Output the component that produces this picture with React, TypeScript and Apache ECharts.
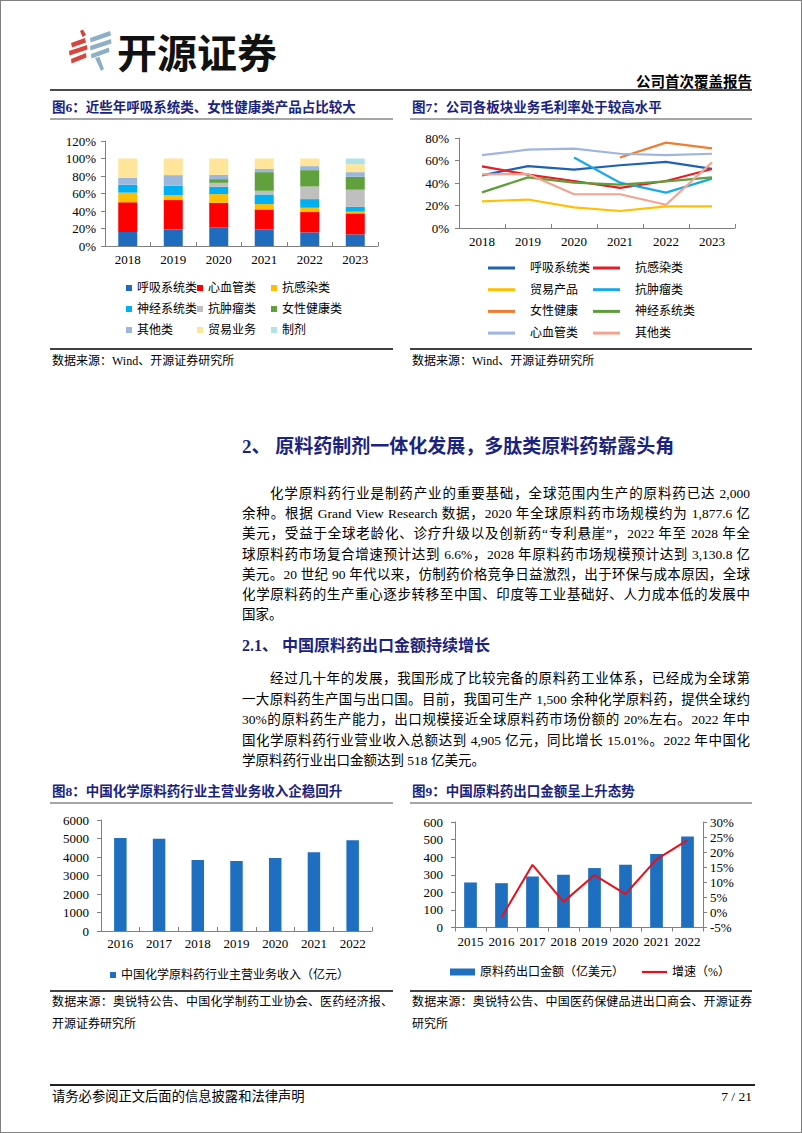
import React, { useEffect, useRef } from "react";
import * as echarts from "echarts";

// ---------- DATA ----------
const years6 = ["2018", "2019", "2020", "2021", "2022", "2023"];
const names6 = ["呼吸系统类", "心血管类", "抗感染类", "神经系统类", "抗肿瘤类", "女性健康类", "其他类", "贸易业务", "制剂"];
const share6Resp = [16, 19, 21, 19, 15.6, 13.3];
const share6Cardio = [34, 33.5, 28.4, 22.8, 23.2, 24];
const share6Anti = [11, 5.5, 9.9, 6.1, 4.9, 1.9];
const share6Neuro = [9, 11, 8.4, 11, 9.9, 5.7];
const share6Tumor = [0, 0, 4.5, 4.2, 14.4, 19.4];
const share6Women = [0, 0, 4.2, 21.3, 18.7, 14.8];
const share6Other = [8, 12, 5, 3.8, 4.6, 5.3];
const share6Trade = [22, 19, 18.6, 11.8, 8.7, 9.1];
const share6Prep = [0, 0, 0, 0, 0, 6.5];
const yTicks6 = [0, 20, 40, 60, 80, 100, 120];

const years7 = ["2018", "2019", "2020", "2021", "2022", "2023"];
const names7 = ["呼吸系统类", "抗感染类", "贸易产品", "抗肿瘤类", "女性健康", "神经系统类", "心血管类", "其他类"];
const gm7Resp = [46.8, 55, 51.9, 55.8, 58.7, 52.5];
const gm7Anti = [54.8, 47.4, 41.8, 35.6, 41.8, 52.4];
const gm7Trade = [23.7, 25.3, 18.4, 15.1, 19.3, 19.3];
const gm7Tumor = [null, null, 62.6, 40.3, 31.4, 43.9];
const gm7Women = [null, null, null, 62.6, 75.9, 70.8];
const gm7Neuro = [31.7, 45, 40.3, 38.6, 41.5, 45];
const gm7Cardio = [64.8, 69.6, 70.6, 66, 64.8, 66];
const gm7Other = [47.7, 48, 30, 30, 20.7, 58.3];

const years8 = ["2016", "2017", "2018", "2019", "2020", "2021", "2022"];
const revenue8 = [5030, 4980, 3840, 3790, 3950, 4260, 4905];
const name8 = "中国化学原料药行业主营业务收入（亿元）";

const years9 = ["2015", "2016", "2017", "2018", "2019", "2020", "2021", "2022"];
const export9 = [256, 252, 290, 300, 338, 357, 418, 518];
const growth9 = [null, -1.6, 15.8, 3.5, 12.4, 6.1, 17.6, 24.0];
const names9 = ["原料药出口金额（亿美元）", "增速（%）"];

const para1 = [
  "化学原料药行业是制药产业的重要基础，全球范围内生产的原料药已达 2,000",
  "余种。根据 Grand View Research 数据，2020 年全球原料药市场规模约为 1,877.6 亿",
  "美元，受益于全球老龄化、诊疗升级以及创新药“专利悬崖”，2022 年至 2028 年全",
  "球原料药市场复合增速预计达到 6.6%，2028 年原料药市场规模预计达到 3,130.8 亿",
  "美元。20 世纪 90 年代以来，仿制药价格竞争日益激烈，出于环保与成本原因，全球",
  "化学原料药的生产重心逐步转移至中国、印度等工业基础好、人力成本低的发展中",
  "国家。",
];
const para2 = [
  "经过几十年的发展，我国形成了比较完备的原料药工业体系，已经成为全球第",
  "一大原料药生产国与出口国。目前，我国可生产 1,500 余种化学原料药，提供全球约",
  "30%的原料药生产能力，出口规模接近全球原料药市场份额的 20%左右。2022 年中",
  "国化学原料药行业营业收入总额达到 4,905 亿元，同比增长 15.01%。2022 年中国化",
  "学原料药行业出口金额达到 518 亿美元。",
];

// ---------- STYLE ----------
const FONT = '"Liberation Serif", "Noto Sans CJK SC", serif';
const NAVY = "#1B2380";
const AXIS = "#808080";
const colors6 = ["#1F6CBE", "#FF0000", "#FFBF00", "#00B0F0", "#BFBFBF", "#61A13D", "#9BB7DE", "#FFE59A", "#B0E3E8"];
const colors7 = ["#1F62B4", "#E81C24", "#FFC000", "#17A9E8", "#ED7D31", "#5E9E3B", "#9FB5E0", "#F1A491"];
const BAR = "#1F6FC0";

const labelStyle = { fontFamily: "Liberation Serif", fontSize: 13, color: "#000" };
const legendText = { fontFamily: FONT, fontSize: 12, lineHeight: 14, color: "#000" };

function Chart({ option, style }: { option: any; style: any }) {
  const ref = useRef<HTMLDivElement>(null);
  useEffect(() => {
    const c = echarts.init(ref.current!, null, { renderer: "svg" });
    c.setOption(option);
    return () => c.dispose();
  }, []);
  return <div ref={ref} style={{ position: "absolute", ...style }} />;
}

function catAxis(data: string[], margin: number, inside = true) {
  return {
    type: "category",
    data,
    axisLine: { lineStyle: { color: AXIS, width: 1 } },
    axisTick: { show: true, inside, length: 4, lineStyle: { color: AXIS } },
    axisLabel: { ...labelStyle, margin, interval: 0 },
  };
}
function valAxis(min: number, max: number, interval: number, suffix: string, margin: number) {
  return {
    type: "value",
    min,
    max,
    interval,
    axisLine: { show: true, lineStyle: { color: AXIS, width: 1 } },
    axisTick: { show: true, length: 4, lineStyle: { color: AXIS } },
    splitLine: { show: false },
    axisLabel: { ...labelStyle, margin, formatter: (v: number) => String(v) + suffix },
  };
}

// chart 6
const data6 = [share6Resp, share6Cardio, share6Anti, share6Neuro, share6Tumor, share6Women, share6Other, share6Trade, share6Prep];
const cols6 = [
  [names6[0], names6[3], names6[6]],
  [names6[1], names6[4], names6[7]],
  [names6[2], names6[5], names6[8]],
];
const option6 = {
  animation: false,
  grid: { left: 55, top: 16, width: 273, height: 105 },
  xAxis: catAxis(years6, 7),
  yAxis: valAxis(yTicks6[0], yTicks6[yTicks6.length - 1], 20, "%", 9),
  legend: cols6.map((c, i) => ({
    orient: "vertical",
    left: [71, 142, 216][i],
    top: 151,
    height: 80,
    itemWidth: 6,
    itemHeight: 6,
    itemGap: 7,
    icon: "rect",
    selectedMode: false,
    data: c,
    textStyle: legendText,
  })),
  series: names6.map((n, i) => ({
    type: "bar",
    name: n,
    stack: "total",
    data: data6[i],
    barWidth: 19,
    itemStyle: { color: colors6[i] },
  })),
};

// chart 7
const data7 = [gm7Resp, gm7Anti, gm7Trade, gm7Tumor, gm7Women, gm7Neuro, gm7Cardio, gm7Other];
const cols7 = [
  [names7[0], names7[2], names7[4], names7[6]],
  [names7[1], names7[3], names7[5], names7[7]],
];
const option7 = {
  animation: false,
  grid: { left: 49, top: 13, width: 276, height: 90 },
  xAxis: catAxis(years7, 7),
  yAxis: valAxis(0, 80, 20, "%", 10),
  legend: cols7.map((c, i) => ({
    orient: "vertical",
    left: [73, 178][i],
    top: 131,
    height: 100,
    itemWidth: 27,
    itemHeight: 3,
    itemGap: 7.7,
    icon: "rect",
    selectedMode: false,
    data: c,
    textStyle: { ...legendText, padding: [0, 0, 0, 10] },
  })),
  series: names7.map((n, i) => ({
    type: "line",
    name: n,
    data: data7[i],
    symbol: "none",
    connectNulls: false,
    lineStyle: { color: colors7[i], width: 2.2 },
    itemStyle: { color: colors7[i] },
  })),
};

// chart 8
const option8 = {
  animation: false,
  grid: { left: 51, top: 15, width: 271, height: 111 },
  xAxis: catAxis(years8, 6),
  yAxis: valAxis(0, 6000, 1000, "", 12),
  legend: {
    left: 55,
    top: 158,
    itemWidth: 6,
    itemHeight: 6,
    icon: "rect",
    selectedMode: false,
    data: [name8],
    textStyle: legendText,
  },
  series: [{ type: "bar", name: name8, data: revenue8, barWidth: 12.5, itemStyle: { color: BAR } }],
};

// chart 9
const option9 = {
  animation: false,
  grid: { left: 45, top: 17, width: 248, height: 105.5 },
  xAxis: catAxis(years9, 7, false),
  yAxis: [
    valAxis(0, 600, 100, "", 12),
    { ...valAxis(-5, 30, 5, "%", 7), position: "right" },
  ],
  legend: {
    left: 35,
    top: 155,
    itemWidth: 25,
    itemHeight: 7,
    itemGap: 18,
    selectedMode: false,
    data: [
      { name: names9[0], icon: "rect" },
      { name: names9[1], icon: "path://M0,0L25,0L25,2.2L0,2.2Z" },
    ],
    textStyle: legendText,
  },
  series: [
    { type: "bar", name: names9[0], data: export9, barWidth: 12.7, itemStyle: { color: BAR } },
    {
      type: "line",
      name: names9[1],
      yAxisIndex: 1,
      data: growth9,
      symbol: "none",
      lineStyle: { color: "#E8101A", width: 2 },
      itemStyle: { color: "#E8101A" },
    },
  ],
};

// logo
const logoOption = {
  animation: false,
  graphic: [
    { type: "polygon", shape: { points: [[80, 31], [83, 29.5], [86, 35], [82.5, 37]] }, style: { fill: "#D9433B" } },
    { type: "polygon", shape: { points: [[71, 43], [85, 38], [86, 42.5], [72, 47.5]] }, style: { fill: "#D9433B" } },
    { type: "polygon", shape: { points: [[69, 51], [87, 45], [87.5, 49.5], [69.5, 55.5]] }, style: { fill: "#D9433B" } },
    { type: "polygon", shape: { points: [[71, 59], [86, 53], [86.5, 57.5], [71.5, 63.5]] }, style: { fill: "#D9433B" } },
    { type: "polygon", shape: { points: [[90, 38], [110, 31], [111, 35.5], [90.5, 42.5]] }, style: { fill: "#8FAFC7" } },
    { type: "polygon", shape: { points: [[90, 46], [111, 39], [111.5, 43.5], [90.5, 50.5]] }, style: { fill: "#8FAFC7" } },
    { type: "polygon", shape: { points: [[91, 54], [109, 47.5], [109.5, 52], [91.5, 58.5]] }, style: { fill: "#8FAFC7" } },
    { type: "polygon", shape: { points: [[95, 58], [99.5, 57], [104, 69], [101, 71]] }, style: { fill: "#8FAFC7" } },
    {
      type: "text",
      style: {
        text: "开源证券",
        x: 117,
        y: 51,
        font: 'bold 40px "Noto Sans CJK SC"',
        fill: "#111",
        textVerticalAlign: "middle",
        textAlign: "left",
      },
    },
  ],
};

function Txt({ x, y, text, size = 13.5, bold = false, color = "#000", w, justify = false, right = false, lh = 20, indent = 0 }: any) {
  const st: any = {
    position: "absolute",
    top: y - lh / 2,
    height: lh,
    lineHeight: lh + "px",
    fontSize: size,
    fontFamily: FONT,
    fontWeight: bold ? "bold" : "normal",
    color,
    whiteSpace: justify ? "normal" : "nowrap",
    paddingLeft: indent,
    boxSizing: "border-box",
  };
  if (right) st.right = 802 - x;
  else st.left = x;
  if (w) st.width = w;
  if (justify) {
    st.textAlign = "justify";
    st.textAlignLast = "justify";
  }
  return <div style={st}>{text}</div>;
}

function HLine({ x, y, w, h, color }: any) {
  return <div style={{ position: "absolute", left: x, top: y, width: w, height: h, background: color }} />;
}

export default function App() {
  useEffect(() => {
    document.body.style.margin = "0";
  }, []);
  return (
    <div style={{ position: "absolute", left: 0, top: 0, width: 802, height: 1133, background: "#fff", overflow: "hidden" }}>
      <Chart option={logoOption} style={{ left: 0, top: 0, width: 300, height: 80 }} />
      <Txt x={752} y={82} right text="公司首次覆盖报告" size={14.5} bold />
      <HLine x={50} y={88.5} w={702} h={2} color="#4a4a4a" />

      <Txt x={52} y={108} text="图6：近些年呼吸系统类、女性健康类产品占比较大" size={13.5} bold color={NAVY} />
      <Txt x={412} y={108} text="图7：公司各板块业务毛利率处于较高水平" size={13.5} bold color={NAVY} />
      <HLine x={50} y={118} w={343} h={2} color="#A6A6A6" />
      <HLine x={410} y={118} w={342} h={2} color="#A6A6A6" />

      <Chart option={option6} style={{ left: 50, top: 125, width: 345, height: 222 }} />
      <Chart option={option7} style={{ left: 410, top: 125, width: 345, height: 222 }} />

      <HLine x={50} y={348} w={343} h={1.5} color="#404040" />
      <HLine x={410} y={348} w={342} h={1.5} color="#404040" />
      <Txt x={52} y={361} text="数据来源：Wind、开源证券研究所" size={12} />
      <Txt x={412} y={361} text="数据来源：Wind、开源证券研究所" size={12} />

      <Txt x={242} y={447} text="2、 原料药制剂一体化发展，多肽类原料药崭露头角" size={19} bold color={NAVY} lh={24} />
      {para1.map((t, i) => (
        <Txt key={"p1" + i} x={242} y={494 + 20.2 * i} w={i === para1.length - 1 ? undefined : 508} justify={i !== para1.length - 1} indent={i === 0 ? 28 : 0} text={t} size={13.5} />
      ))}
      <Txt x={242} y={646} text="2.1、 中国原料药出口金额持续增长" size={16} bold color={NAVY} lh={22} />
      {para2.map((t, i) => (
        <Txt key={"p2" + i} x={242} y={679 + 20.5 * i} w={i === para2.length - 1 ? undefined : 508} justify={i !== para2.length - 1} indent={i === 0 ? 28 : 0} text={t} size={13.5} />
      ))}

      <Txt x={52} y={792} text="图8：中国化学原料药行业主营业务收入企稳回升" size={13.5} bold color={NAVY} />
      <Txt x={412} y={792} text="图9：中国原料药出口金额呈上升态势" size={13.5} bold color={NAVY} />
      <HLine x={50} y={802} w={343} h={2} color="#A6A6A6" />
      <HLine x={410} y={802} w={342} h={2} color="#A6A6A6" />

      <Chart option={option8} style={{ left: 50, top: 805, width: 345, height: 180 }} />
      <Chart option={option9} style={{ left: 410, top: 805, width: 345, height: 180 }} />

      <HLine x={50} y={990} w={343} h={1.5} color="#404040" />
      <HLine x={410} y={990} w={342} h={1.5} color="#404040" />
      <Txt x={52} y={1002} w={341} justify text="数据来源：奥锐特公告、中国化学制药工业协会、医药经济报、" size={12} />
      <Txt x={52} y={1024} text="开源证券研究所" size={12} />
      <Txt x={412} y={1002} w={340} justify text="数据来源：奥锐特公告、中国医药保健品进出口商会、开源证券" size={12} />
      <Txt x={412} y={1024} text="研究所" size={12} />

      <HLine x={50} y={1084} w={705} h={1.5} color="#222" />
      <Txt x={52} y={1097} text="请务必参阅正文后面的信息披露和法律声明" size={13.3} />
      <Txt x={752} y={1097} right text="7 / 21" size={13.5} />

      <div style={{ position: "absolute", left: 0, top: 0, width: 802, height: 1133, boxSizing: "border-box", border: "1px solid #808080", pointerEvents: "none" }} />
    </div>
  );
}
